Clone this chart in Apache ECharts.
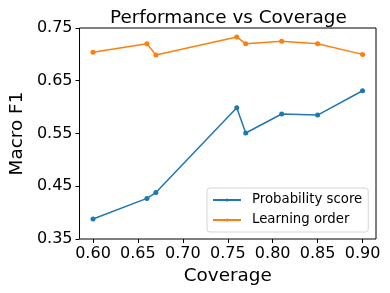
<!DOCTYPE html>
<html>
<head>
<meta charset="utf-8">
<script src="https://cdn.jsdelivr.net/npm/echarts@6/dist/echarts.min.js"></script>
<style>html,body{margin:0;padding:0;background:#fff}#c{width:390px;height:293px}</style>
</head>
<body>
<div id="c"></div>
<script>
const coverage = [0.60, 0.66, 0.67, 0.76, 0.77, 0.81, 0.85, 0.90];
const probabilityScore = [0.388, 0.427, 0.438, 0.599, 0.551, 0.587, 0.585, 0.631];
const learningOrder = [0.704, 0.720, 0.699, 0.733, 0.720, 0.725, 0.720, 0.700];
const seriesNames = ['Probability score', 'Learning order'];
const xTicks = [0.60, 0.65, 0.70, 0.75, 0.80, 0.85, 0.90];
const yTicks = [0.35, 0.45, 0.55, 0.65, 0.75];

const FONT = 'DejaVu Sans';
const chart = echarts.init(document.getElementById('c'), null, {renderer: 'canvas'});
chart.setOption({
  animation: false,
  title: {
    text: 'Performance vs Coverage',
    left: 105, top: 4,
    textStyle: {fontFamily: FONT, fontSize: 18.4, fontWeight: 'normal', color: '#000'}
  },
  grid: {left: 73, right: 14, top: 28, bottom: 54, show: true, borderColor: '#000', borderWidth: 1, backgroundColor: 'transparent'},
  legend: {
    orient: 'vertical', left: 207, top: 188,
    itemWidth: 28, itemHeight: 4, itemGap: 6,
    padding: [5, 6, 5, 5],
    borderColor: '#d6d6d6', borderWidth: 1, borderRadius: 3, backgroundColor: '#fff',
    textStyle: {fontFamily: FONT, fontSize: 13.3, color: '#000', padding: [0, 0, 0, 6], lineHeight: 14},
    data: seriesNames
  },
  xAxis: {
    type: 'value', min: 0.585, max: 0.915,
    name: 'Coverage', nameLocation: 'middle', nameGap: 22,
    nameTextStyle: {fontFamily: FONT, fontSize: 18.4, color: '#000'},
    axisLine: {show: false},
    axisTick: {show: true, length: 4, lineStyle: {color: '#000'}, customValues: xTicks},
    axisLabel: {fontFamily: FONT, fontSize: 16, color: '#000', margin: 7, customValues: xTicks,
      formatter: v => v.toFixed(2)},
    splitLine: {show: false}
  },
  yAxis: {
    type: 'value', min: 0.35, max: 0.75, interval: 0.1,
    name: 'Macro F1', nameLocation: 'middle', nameGap: 47, nameRotate: 90,
    nameTextStyle: {fontFamily: FONT, fontSize: 18.4, color: '#000'},
    axisLine: {show: false},
    axisTick: {show: true, length: 4, lineStyle: {color: '#000'}, customValues: yTicks},
    axisLabel: {fontFamily: FONT, fontSize: 16, color: '#000', margin: 7, customValues: yTicks,
      formatter: v => v.toFixed(2)},
    splitLine: {show: false}
  },
  series: [
    {name: seriesNames[0], type: 'line', data: coverage.map((x, i) => [x, probabilityScore[i]]),
     color: '#1f77b4', symbol: 'circle', symbolSize: 5, showAllSymbol: true,
     lineStyle: {width: 1.5}},
    {name: seriesNames[1], type: 'line', data: coverage.map((x, i) => [x, learningOrder[i]]),
     color: '#ff7f0e', symbol: 'circle', symbolSize: 5, showAllSymbol: true,
     lineStyle: {width: 1.5}}
  ]
});
</script>
</body>
</html>
